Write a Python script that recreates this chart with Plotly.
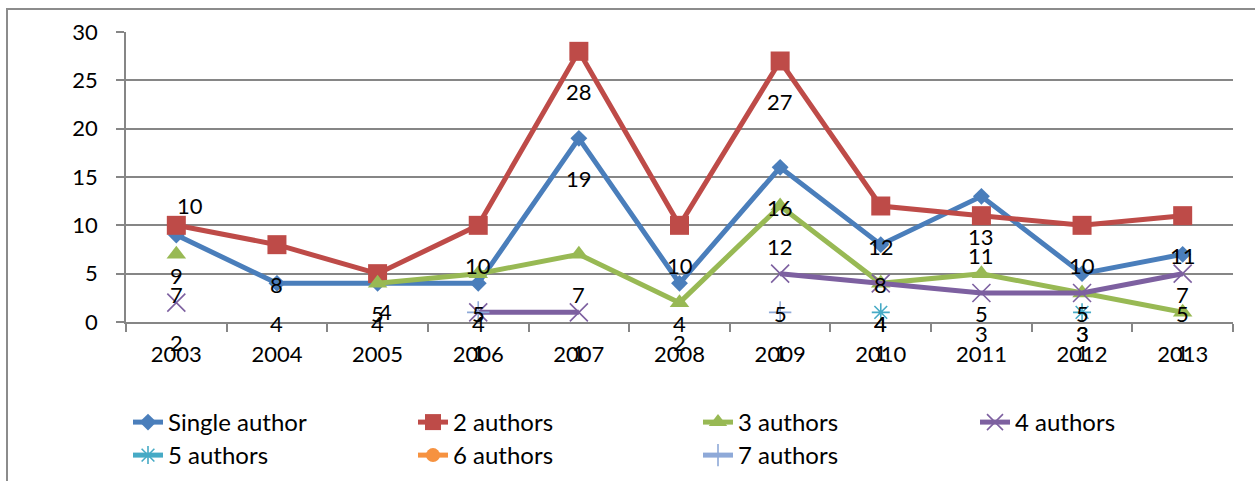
import plotly.graph_objects as go

# Publications per year by number of authors
years = ["2003", "2004", "2005", "2006", "2007", "2008", "2009", "2010", "2011", "2012", "2013"]
single_author = [9, 4, 4, 4, 19, 4, 16, 8, 13, 5, 7]
two_authors = [10, 8, 5, 10, 28, 10, 27, 12, 11, 10, 11]
three_authors = [7, None, 4, 5, 7, 2, 12, 4, 5, 3, 1]
four_authors = [2, None, None, 1, 1, None, 5, 4, 3, 3, 5]
five_authors = [None, None, None, None, None, None, None, 1, None, 1, None]
six_authors = [None] * 11
seven_authors = [None, None, None, 1, None, None, 1, None, None, None, None]

series_names = ["Single author", "2 authors", "3 authors", "4 authors",
                "5 authors", "6 authors", "7 authors"]
series_values = [single_author, two_authors, three_authors, four_authors,
                 five_authors, six_authors, seven_authors]

# styling per series: colour, marker symbol, marker size
styles = [
    ("#4A7EBB", "diamond", 13),
    ("#BE4B48", "square", 19),
    ("#98B954", "triangle-up", 17),
    ("#7D60A0", "x-thin-open", 18),
    ("#46AAC5", "asterisk-open", 15),
    ("#F69240", "circle", 14),
    ("#8EA9D8", "cross-thin-open", 16),
]
# legend group for each series (row 1: columns 1-3, column 4, row 2)
legend_ids = ["legend", "legend", "legend", "legend3", "legend2", "legend2", "legend2"]

FONT = "Lato"
FS = 22

fig = go.Figure()
for name, vals, (color, sym, size), lg in zip(series_names, series_values, styles, legend_ids):
    thin = sym.endswith("-open")
    fig.add_trace(go.Scatter(
        x=years, y=vals, name=name, mode="lines+markers",
        line=dict(color=color, width=5),
        marker=dict(symbol=sym, size=size, color=color,
                    line=dict(color=color, width=1.6 if thin else 0)),
        connectgaps=False,
        legend=lg,
    ))

# data labels sit below each point; a few are nudged
nudges = {(1, 0): (14, 20), (2, 2): (8, -28)}
annotations = []
for si, vals in enumerate(series_values):
    for xi, v in enumerate(vals):
        if v is None:
            continue
        dx, dy = nudges.get((si, xi), (0, -40))
        annotations.append(dict(
            x=xi, y=v, xref="x", yref="y", text=str(v), showarrow=False,
            xshift=dx, yshift=dy,
            font=dict(family=FONT, size=FS, color="black"),
        ))

W, H = 1255, 481
L, R, T, B = 126, 22, 32, 159
pw, ph = W - L - R, H - T - B

def px_x(p):
    return (p - L) / pw

def px_y(p):
    return (H - B - p) / ph

legend_common = dict(
    orientation="h", xref="container", yref="container",
    xanchor="left", yanchor="top",
    entrywidth=240, entrywidthmode="pixels",
    font=dict(family=FONT, size=24, color="black"),
    bgcolor="rgba(0,0,0,0)", traceorder="normal",
)

fig.update_layout(
    width=W, height=H,
    margin=dict(l=L, r=R, t=T, b=B, autoexpand=False),
    paper_bgcolor="white", plot_bgcolor="white",
    font=dict(family=FONT, size=FS, color="black"),
    annotations=annotations,
    showlegend=True,
    legend=dict(x=128 / W, y=1 - 400 / H, **legend_common),
    legend3=dict(x=975 / W, y=1 - 400 / H, **legend_common),
    legend2=dict(x=128 / W, y=1 - 433 / H, **legend_common),
    shapes=[dict(
        type="rect", xref="paper", yref="paper", layer="below",
        x0=px_x(7), x1=px_x(1300), y0=px_y(9), y1=px_y(540),
        line=dict(color="#8C8C8C", width=2), fillcolor="rgba(0,0,0,0)",
    )],
)

fig.update_xaxes(
    type="category", range=[-0.5, 10.5], tickson="boundaries",
    showgrid=False, showline=True, linecolor="#868686", linewidth=1.5,
    ticks="outside", ticklen=8, tickcolor="#868686", tickwidth=1.5,
    ticklabelstandoff=12,
    tickfont=dict(family=FONT, size=FS, color="black"),
)
fig.update_yaxes(
    range=[0, 30], dtick=5, tick0=0,
    showgrid=True, gridcolor="#868686", gridwidth=1.5,
    showline=True, linecolor="#868686", linewidth=1.5,
    ticks="outside", ticklen=8, tickcolor="#868686", tickwidth=1.5,
    ticklabelstandoff=14, zeroline=False,
    tickfont=dict(family=FONT, size=FS, color="black"),
)

fig.write_html("out.html")
